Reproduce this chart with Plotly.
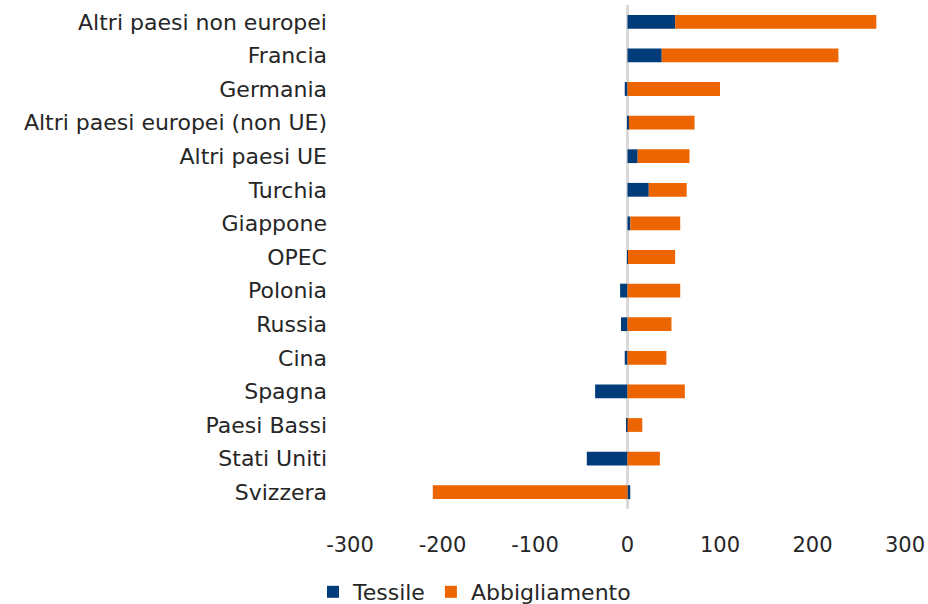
import plotly.graph_objects as go

paesi = ["Altri paesi non europei", "Francia", "Germania", "Altri paesi europei (non UE)",
         "Altri paesi UE", "Turchia", "Giappone", "OPEC", "Polonia", "Russia", "Cina",
         "Spagna", "Paesi Bassi", "Stati Uniti", "Svizzera"]
tessile = [51.5, 37, -3, 1.5, 11, 23, 3, 0.5, -8, -7, -3, -35, -1.5, -44, 3]
abbigliamento = [217.5, 191, 100, 71, 56, 41, 54, 51, 57, 47.5, 42, 62, 16, 35, -210.5]
tick_vals = [-300, -200, -100, 0, 100, 200, 300]
tick_text = ["-300", "-200", "-100", "0", "100", "200", "300"]

FONT = "DejaVu Sans"
fig = go.Figure()
fig.add_trace(go.Bar(y=paesi, x=tessile, orientation="h", name="Tessile",
                     marker=dict(color="#003B7A", line=dict(width=0))))
fig.add_trace(go.Bar(y=paesi, x=abbigliamento, orientation="h", name="Abbigliamento",
                     marker=dict(color="#EC6500", line=dict(width=0))))

fig.update_layout(
    barmode="relative",
    bargap=0.59,
    width=928, height=604,
    margin=dict(l=350, r=23, t=5, b=95, pad=0, autoexpand=False),
    plot_bgcolor="white", paper_bgcolor="white",
    font=dict(family=FONT, size=20, color="#262626"),
    showlegend=True,
    legend=dict(orientation="h", x=-0.0667, xanchor="left", y=-0.1647, yanchor="middle",
                font=dict(size=22), itemwidth=30, traceorder="normal"),
    xaxis=dict(range=[-300, 300], tickvals=tick_vals, ticktext=tick_text, showgrid=False,
               zeroline=True, zerolinecolor="#D9D9D9", zerolinewidth=2.5,
               showline=False, ticks="", tickfont=dict(size=21),
               automargin=False, ticklabelstandoff=21),
    yaxis=dict(categoryorder="array", categoryarray=paesi, range=[14.5, -0.5],
               showgrid=False, zeroline=False, showline=False, ticks="",
               ticklabelstandoff=22, tickfont=dict(size=22), automargin=False),
)
fig.write_html("out.html", config={"displayModeBar": False},
               post_script="document.body.style.margin='0';")
